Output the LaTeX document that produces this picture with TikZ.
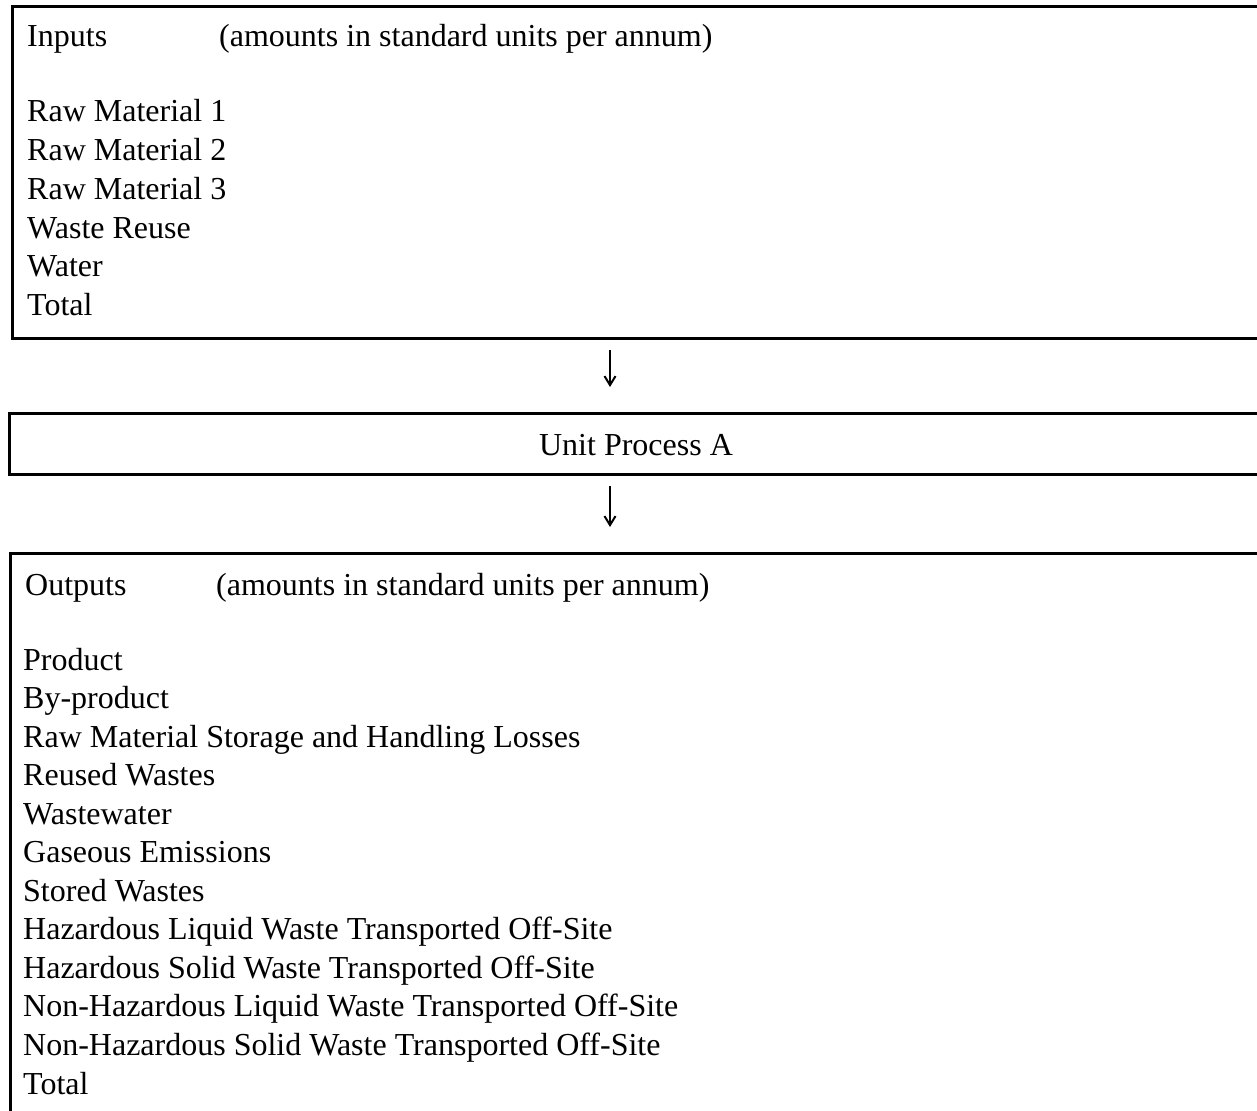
\documentclass[tikz,border=0pt]{standalone}
\usepackage{fontspec}
\setmainfont{Liberation Serif}
\usetikzlibrary{arrows.meta}
\begin{document}
\begin{tikzpicture}[x=1pt,y=-1pt,
  panel/.style={draw=black,line width=3pt,rectangle,inner sep=0pt,anchor=north west},
  txt/.style={inner sep=0pt,anchor=base west,font=\fontsize{32}{38.7}\selectfont},
  flow/.style={line width=2pt,-{Straight Barb[length=9pt,width=11pt,line width=2pt]},
    shorten <=10pt,shorten >=25pt}]
\useasboundingbox (0,0) rectangle (1257,1110);
\clip (0,0) rectangle (1257,1110);

% the three panels (right and lower edges run past the sheet)
\node[panel,minimum width=1260pt,minimum height=332pt] (inbox) at (11,5) {};
\node[panel,minimum width=1262pt,minimum height=61pt] (unit) at (8,412) {};
\node[panel,minimum width=1262pt,minimum height=580pt] (outbox) at (9,552) {};

% input table
\node[txt] (inhead) at (27,46.7) {Inputs};
\node[txt] (inunits) at (219,46.7) {(amounts in standard units per annum)};
\foreach \t [count=\i] in {Raw Material 1,Raw Material 2,Raw Material 3,Waste Reuse,Water,Total}
  \node[txt] (in\i) at (27,{121.7+38.8*(\i-1)}) {\t};

% process
\node[txt,anchor=base] (unitlabel) at (636,455) {Unit Process A};

% output table
\node[txt] (outhead) at (25,595) {Outputs};
\node[txt] (outunits) at (216,595) {(amounts in standard units per annum)};
\foreach \t [count=\i] in {Product,By-product,Raw Material Storage and Handling Losses,
  Reused Wastes,Wastewater,Gaseous Emissions,Stored Wastes,
  Hazardous Liquid Waste Transported Off-Site,Hazardous Solid Waste Transported Off-Site,
  Non-Hazardous Liquid Waste Transported Off-Site,Non-Hazardous Solid Waste Transported Off-Site,Total}
  \node[txt] (out\i) at (23,{670+38.55*(\i-1)}) {\t};

% flow arrows
\coordinate (axis) at (610,0);
\draw[flow] (inbox.south -| axis) -- (unit.north -| axis);
\draw[flow] (unit.south -| axis) -- (outbox.north -| axis);
\end{tikzpicture}
\end{document}
